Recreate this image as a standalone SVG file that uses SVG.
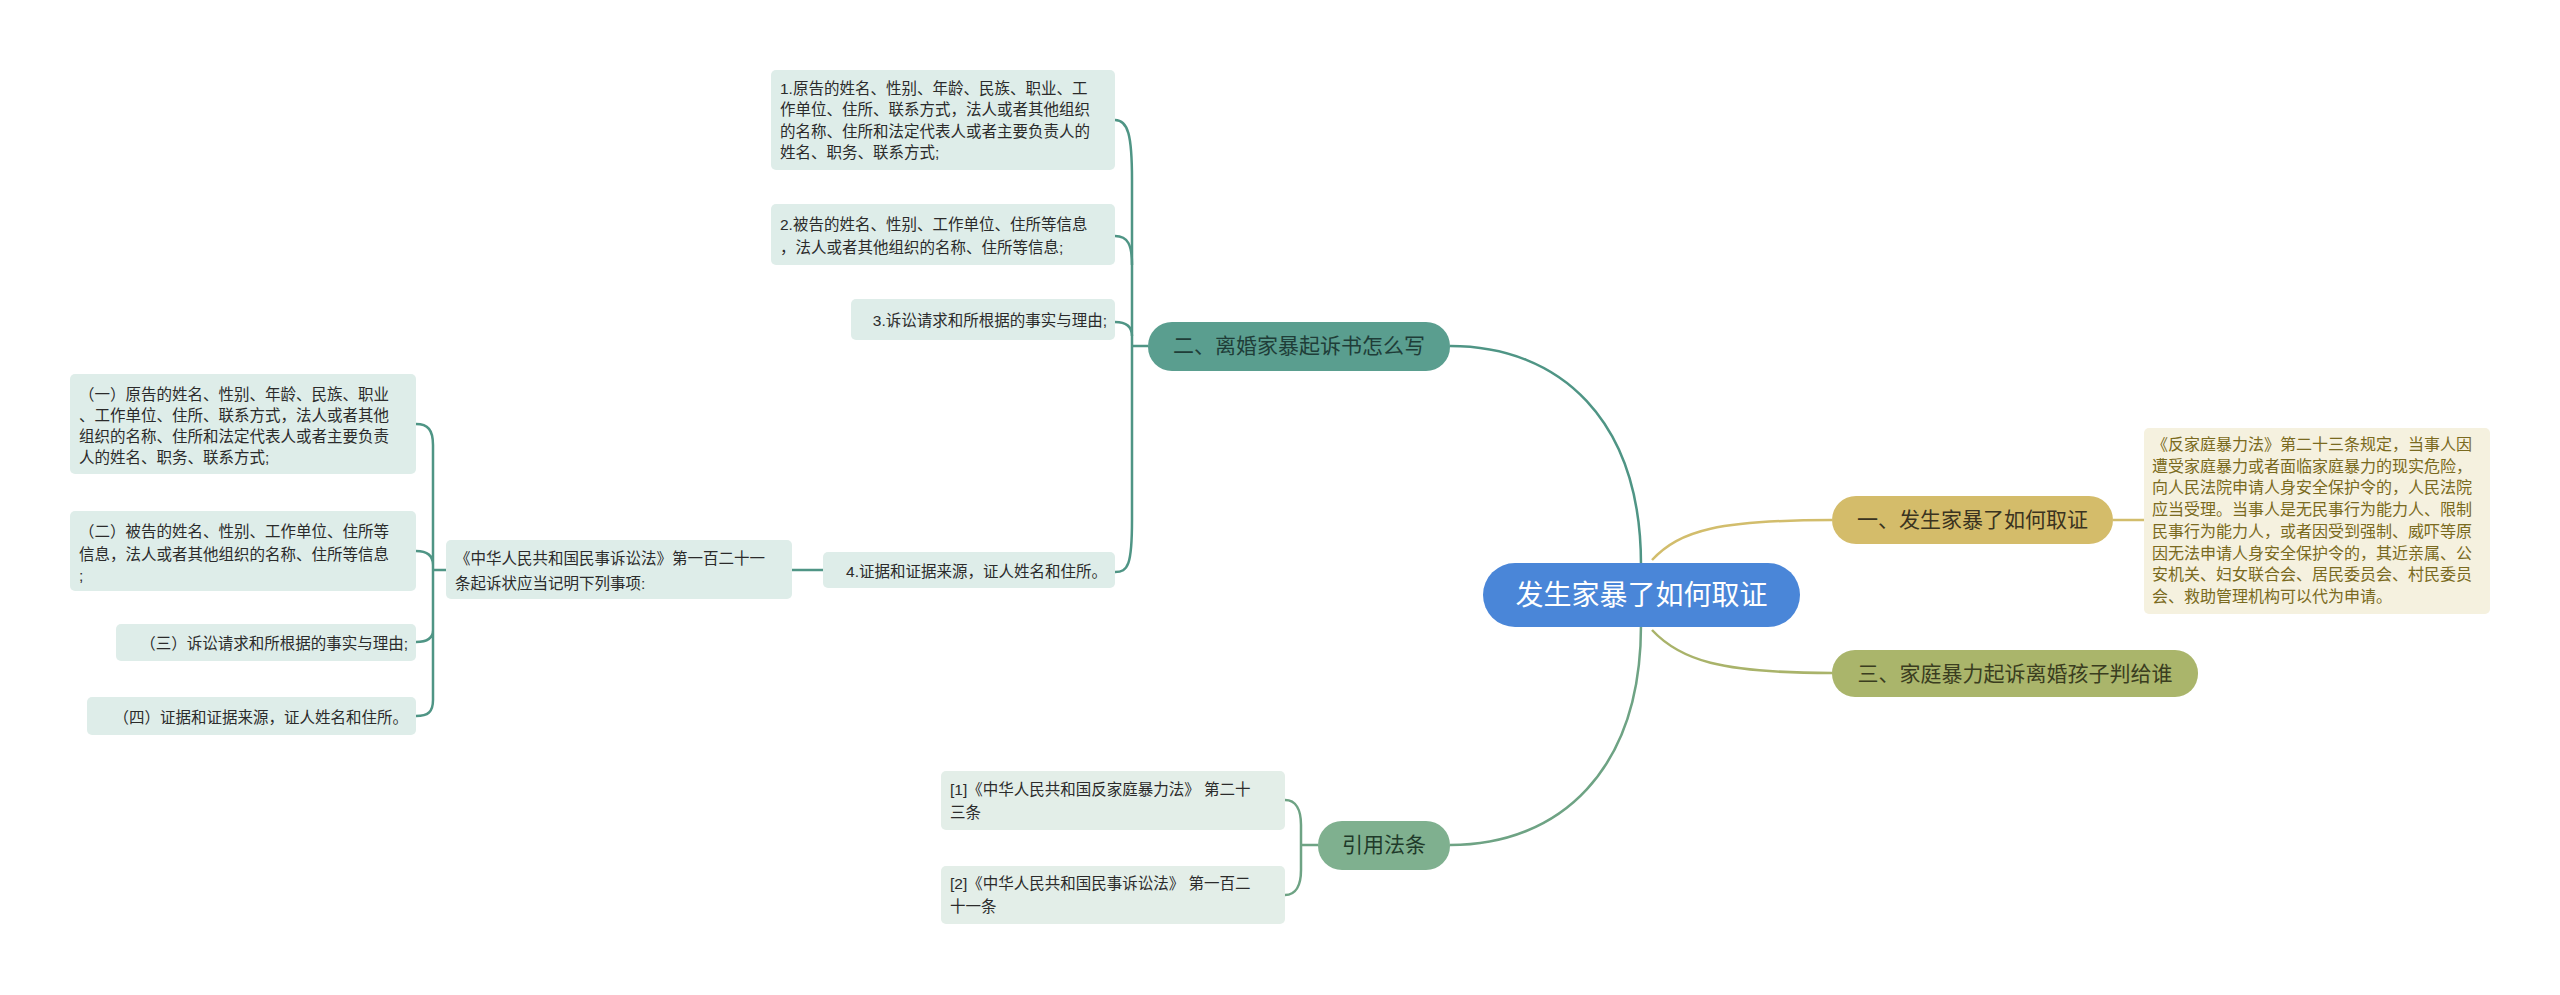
<svg xmlns="http://www.w3.org/2000/svg" width="2560" height="995" viewBox="0 0 2560 995">
<style>
text{font-family:"Liberation Sans","Noto Sans CJK SC",sans-serif}
.leaf{fill:#deede9}
.lt{font-size:15.5px;fill:#2b2b2b}
.teal{fill:none;stroke:#4f9585;stroke-width:2.5}
.green{fill:none;stroke:#6ea384;stroke-width:2.5}
.gold{fill:none;stroke:#d2bd6c;stroke-width:2.5}
.olive{fill:none;stroke:#a9b36a;stroke-width:2.5}
</style>
<rect width="2560" height="995" fill="#fff"/>
<g id="connectors">
<path class="teal" d="M1641,565 C1641,420 1560,346 1450,346"/>
<path class="green" d="M1641,625 C1641,770 1560,845 1450,845"/>
<path class="gold" d="M1652,560 C1680,530 1720,520 1832,520"/>
<path class="olive" d="M1652,630 C1680,660 1720,673 1832,673"/>
<path class="gold" d="M2113,520 L2144,520"/>
<path class="teal" d="M1148,346 L1132,346"/>
<path class="teal" d="M1115,120 C1128,120 1132,135 1132,180 L1132,520 C1132,565 1128,572 1115,572"/>
<path class="teal" d="M1115,236 C1128,236 1132,245 1132,265 M1115,322 C1126,322 1132,326 1132,336"/>
<path class="teal" d="M823,570 L792,570"/>
<path class="teal" d="M446,570 L433,570 M416,424 C428,424 433,430 433,445 L433,700 C433,712 428,716 416,716 M416,551 C428,551 433,556 433,565 M416,642 C428,642 433,638 433,630"/>
<path class="green" d="M1318,845 L1301,845 M1285,800 C1296,800 1301,810 1301,825 L1301,870 C1301,885 1296,895 1285,895"/>
</g>
<g id="center"><rect x="1483" y="563" width="317" height="64" rx="32" fill="#4a86d8"/><text x="1641.5" y="605" font-size="28" fill="#fff" text-anchor="middle">发生家暴了如何取证</text></g>
<g id="b1"><rect x="1832" y="496" width="281" height="48" rx="24" fill="#d4bc6a"/><text x="1972.5" y="527" font-size="21" fill="#3a3320" text-anchor="middle">一、发生家暴了如何取证</text></g>
<g id="note"><rect x="2144" y="428" width="346" height="186" rx="5" fill="#f5f1df"/>
<text font-size="16" fill="#7a6a20"><tspan x="2152" y="450">《反家庭暴力法》第二十三条规定，当事人因</tspan><tspan x="2152" y="471.7">遭受家庭暴力或者面临家庭暴力的现实危险，</tspan><tspan x="2152" y="493.4">向人民法院申请人身安全保护令的，人民法院</tspan><tspan x="2152" y="515.1">应当受理。当事人是无民事行为能力人、限制</tspan><tspan x="2152" y="536.8">民事行为能力人，或者因受到强制、威吓等原</tspan><tspan x="2152" y="558.5">因无法申请人身安全保护令的，其近亲属、公</tspan><tspan x="2152" y="580.2">安机关、妇女联合会、居民委员会、村民委员</tspan><tspan x="2152" y="601.9">会、救助管理机构可以代为申请。</tspan></text></g>
<g id="b3"><rect x="1832" y="650" width="366" height="47" rx="23" fill="#aab56b"/><text x="2015" y="681" font-size="21" fill="#3a3d20" text-anchor="middle">三、家庭暴力起诉离婚孩子判给谁</text></g>
<g id="b2"><rect x="1148" y="322" width="302" height="49" rx="24" fill="#5a9e8f"/><text x="1299" y="353" font-size="21" fill="#1f3d38" text-anchor="middle">二、离婚家暴起诉书怎么写</text></g>
<g id="n1"><rect class="leaf" x="771" y="70" width="344" height="100" rx="5"/><text class="lt"><tspan x="780" y="94">1.原告的姓名、性别、年龄、民族、职业、工</tspan><tspan x="780" y="115">作单位、住所、联系方式，法人或者其他组织</tspan><tspan x="780" y="137">的名称、住所和法定代表人或者主要负责人的</tspan><tspan x="780" y="158">姓名、职务、联系方式;</tspan></text></g>
<g id="n2"><rect class="leaf" x="771" y="204" width="344" height="61" rx="5"/><text class="lt"><tspan x="780" y="230">2.被告的姓名、性别、工作单位、住所等信息</tspan><tspan x="780" y="253">，法人或者其他组织的名称、住所等信息;</tspan></text></g>
<g id="n3"><rect class="leaf" x="851" y="299" width="264" height="41" rx="5"/><text class="lt" x="1107" y="326" text-anchor="end">3.诉讼请求和所根据的事实与理由;</text></g>
<g id="n4"><rect class="leaf" x="823" y="552" width="292" height="36" rx="5"/><text class="lt" x="1107" y="577" text-anchor="end">4.证据和证据来源，证人姓名和住所。</text></g>
<g id="law"><rect class="leaf" x="446" y="540" width="346" height="59" rx="5"/><text class="lt"><tspan x="455" y="564">《中华人民共和国民事诉讼法》第一百二十一</tspan><tspan x="455" y="589">条起诉状应当记明下列事项:</tspan></text></g>
<g id="s1"><rect class="leaf" x="70" y="374" width="346" height="100" rx="5"/><text class="lt"><tspan x="79" y="400">（一）原告的姓名、性别、年龄、民族、职业</tspan><tspan x="79" y="421">、工作单位、住所、联系方式，法人或者其他</tspan><tspan x="79" y="442">组织的名称、住所和法定代表人或者主要负责</tspan><tspan x="79" y="463">人的姓名、职务、联系方式;</tspan></text></g>
<g id="s2"><rect class="leaf" x="70" y="511" width="346" height="80" rx="5"/><text class="lt"><tspan x="79" y="537">（二）被告的姓名、性别、工作单位、住所等</tspan><tspan x="79" y="560">信息，法人或者其他组织的名称、住所等信息</tspan><tspan x="79" y="581">;</tspan></text></g>
<g id="s3"><rect class="leaf" x="116" y="624" width="300" height="37" rx="5"/><text class="lt" x="408" y="649" text-anchor="end">（三）诉讼请求和所根据的事实与理由;</text></g>
<g id="s4"><rect class="leaf" x="87" y="697" width="329" height="38" rx="5"/><text class="lt" x="408" y="723" text-anchor="end">（四）证据和证据来源，证人姓名和住所。</text></g>
<g id="b4"><rect x="1318" y="821" width="132" height="49" rx="24" fill="#7fb08f"/><text x="1384" y="852" font-size="21" fill="#1f3a2a" text-anchor="middle">引用法条</text></g>
<g id="r1"><rect x="941" y="771" width="344" height="59" rx="5" fill="#e3eee8"/><text class="lt"><tspan x="950" y="795">[1]《中华人民共和国反家庭暴力法》 第二十</tspan><tspan x="950" y="818">三条</tspan></text></g>
<g id="r2"><rect x="941" y="866" width="344" height="58" rx="5" fill="#e3eee8"/><text class="lt"><tspan x="950" y="889">[2]《中华人民共和国民事诉讼法》 第一百二</tspan><tspan x="950" y="912">十一条</tspan></text></g>
</svg>
